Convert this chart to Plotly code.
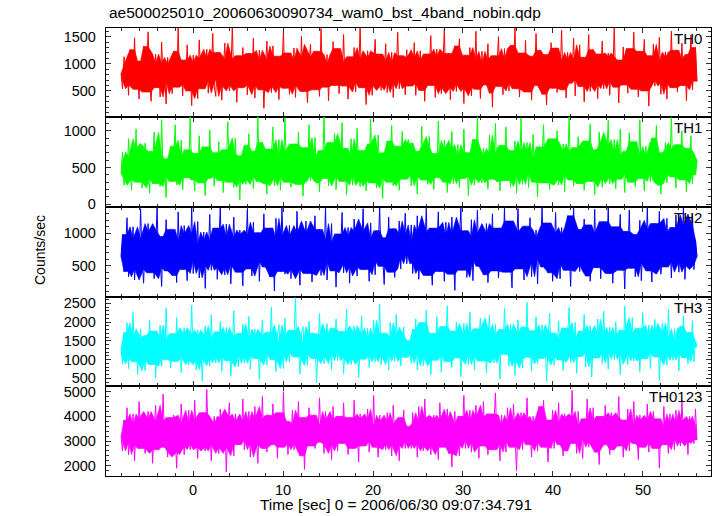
import plotly.graph_objects as go

# ---------------- data (read/estimated from the reference) ----------------
t_start = -8.0
t_end = 56.0

th0 = [820, 540, 1130, 690, 980, 420, 1260, 760, 610, 1480, 530, 900, 350, 1050, 720, 1320,
       480, 860, 1590, 640, 310, 940, 770, 1180, 560, 1010, 390, 1400, 700, 850, 260, 1120,
       680, 990, 450, 1230, 810, 570, 1690, 620, 930, 410, 1070, 740, 1350, 500, 880, 230,
       1160, 650, 1020, 360, 1440, 790, 540, 1100, 690, 1270, 460, 960, 830, 1560, 580, 400,
       1210, 720, 1000, 330, 870, 1380, 610, 1090, 500, 750, 1700, 640, 920, 290, 1150, 800,
       560, 1300, 710, 1040, 430, 1190, 860, 620, 1470, 370, 980, 730, 1250, 520, 1060, 180,
       900, 1420, 660, 1080, 470, 1330, 780, 590, 1140, 340, 1010, 820, 1620, 550, 760, 1200,
       440, 950, 700, 1290, 380, 1050, 870, 610, 1510, 490, 1120, 730, 280, 970, 1360, 640,
       1070, 520, 1230, 810, 400, 1650, 680, 930, 570, 1170, 320, 1000, 760, 1410, 600, 880,
       1280, 450, 1040, 720, 1540, 590, 960, 350, 1130, 800, 670, 1300, 480, 1090, 740, 1690,
       560, 1020, 830, 250, 1240, 690, 1110, 420, 970, 1450, 610, 880, 1180, 510, 1060, 790,
       1370, 470, 940, 650, 1210, 380, 1030, 860, 1580, 540, 1150, 720, 990, 430, 1260, 700,
       590, 1110, 760, 1390, 420, 980, 640, 1240, 510, 1060, 310, 1180, 720, 900, 1520, 600,
       1020, 380, 1270, 680, 1130, 450, 950, 1640, 570, 860, 1190, 340, 1000, 740, 1330, 490,
       880, 1460, 630, 1050, 270, 1160, 790, 560, 1300, 410, 1080, 700, 1600, 530, 920, 360,
       1230, 610, 990, 820, 1370, 460, 1070, 200, 1150, 690, 940, 1500, 580, 1010, 430, 1280,
       750, 1090, 500, 1340, 650, 910, 1680, 540, 1040, 390, 1200, 770, 620, 1430, 480, 970,
       1140, 330, 1010, 720, 1560, 600, 890, 1250, 440, 1100, 810, 240, 1170, 670, 1390, 550,
       960, 1290, 470, 1060, 780, 1620, 520, 930, 370, 1210, 640, 1080, 850, 1470, 410, 1000,
       710, 1350, 580, 1120, 300, 1030, 880, 1540, 490, 970, 1260, 620, 1090, 360, 1180, 760,
       1420, 540, 990, 680, 1200, 420, 1130, 800, 1660, 570, 950, 280, 1070, 730, 1310, 610,
       1040, 460, 1280, 750, 920, 1580, 530, 1100, 390, 1230, 670, 1010, 1450, 500, 870, 220,
       1150, 700, 1360, 590, 1060, 830, 1490, 440, 980, 650, 1220, 350, 1120, 790, 1600, 560,
       930, 1250, 480, 1080, 710, 1380, 600, 1020, 320, 1170, 860, 1530, 520, 960, 1300, 680]

th1 = [420, 710, 260, 580, 340, 890, 470, 190, 650, 380, 1020, 300, 540, 760, 220, 480,
       830, 350, 600, 150, 720, 450, 980, 280, 530, 670, 240, 1150, 410, 560, 90, 620,
       370, 790, 310, 510, 1080, 260, 640, 430, 870, 200, 590, 360, 740, 470, 1200, 330,
       550, 180, 690, 400, 930, 290, 610, 480, 120, 780, 350, 1010, 440, 570, 250, 700,
       390, 850, 320, 620, 160, 740, 460, 1120, 300, 530, 680, 230, 900, 410, 590, 60,
       660, 340, 800, 270, 520, 960, 380, 610, 210, 720, 450, 1190, 310, 570, 840, 280,
       490, 140, 750, 360, 630, 1050, 250, 550, 420, 880, 190, 640, 370, 1170, 470, 300,
       710, 230, 590, 820, 340, 500, 980, 270, 660, 110, 540, 770, 400, 1080, 320, 600,
       440, 910, 290, 560, 170, 730, 480, 1200, 350, 620, 250, 840, 410, 530, 960, 200,
       680, 380, 520, 1110, 310, 760, 130, 580, 450, 890, 260, 650, 390, 1030, 500, 240,
       730, 330, 600, 180, 820, 470, 1160, 290, 550, 690, 220, 940, 360, 620, 80, 700,
       410, 860, 300, 570, 1070, 250, 640, 430, 790, 190, 520, 990, 340, 610, 460, 880,
       560, 250, 830, 390, 650, 140, 720, 480, 1060, 330, 600, 780, 270, 920, 440, 570,
       200, 690, 360, 1130, 420, 610, 300, 870, 510, 160, 750, 400, 990, 280, 640, 470,
       810, 230, 580, 350, 1020, 450, 700, 120, 620, 390, 880, 260, 540, 1190, 370, 660,
       290, 760, 430, 580, 210, 940, 340, 690, 500, 1100, 310, 620, 180, 800, 460, 570,
       1050, 320, 650, 240, 730, 410, 860, 150, 590, 380, 1170, 270, 700, 520, 840, 230,
       610, 430, 950, 300, 560, 100, 780, 370, 640, 1080, 290, 530, 720, 200, 890, 450,
       350, 670, 1000, 260, 580, 420, 820, 170, 710, 480, 1200, 330, 600, 250, 770, 400,
       920, 280, 540, 690, 190, 860, 440, 620, 1090, 310, 570, 130, 740, 390, 980, 500,
       230, 800, 370, 630, 1140, 280, 590, 470, 880, 210, 680, 340, 1020, 420, 560, 160,
       720, 450, 970, 300, 610, 850, 240, 660, 390, 1150, 350, 580, 180, 790, 470, 640,
       310, 900, 430, 560, 1070, 260, 700, 140, 620, 410, 840, 290, 750, 520, 1180, 370,
       580, 220, 810, 460, 640, 1000, 330, 550, 170, 760, 440, 930, 280, 690, 400, 600]

th2 = [640, 980, 410, 760, 1240, 330, 870, 560, 1100, 280, 700, 920, 450, 1380, 600, 230,
       820, 510, 1150, 390, 690, 1020, 300, 780, 1400, 470, 640, 180, 950, 570, 1210, 420,
       730, 1060, 350, 610, 880, 240, 1330, 530, 790, 440, 1120, 660, 270, 990, 580, 1390,
       380, 840, 620, 1180, 310, 720, 500, 1020, 150, 900, 650, 1290, 430, 760, 560, 1080,
       290, 810, 1400, 470, 700, 360, 1140, 590, 940, 220, 760, 1250, 520, 870, 400, 1050,
       620, 190, 980, 730, 1360, 450, 820, 340, 1170, 560, 700, 1010, 260, 890, 600, 1300,
       480, 770, 1080, 330, 650, 920, 110, 1230, 540, 800, 410, 1400, 680, 370, 960, 590,
       1120, 300, 740, 870, 450, 1340, 610, 200, 1000, 520, 780, 1190, 380, 690, 930, 250,
       820, 1270, 470, 640, 1060, 350, 900, 560, 1400, 280, 750, 610, 1150, 420, 860, 170,
       990, 530, 720, 1320, 390, 810, 620, 1090, 230, 950, 480, 1220, 660, 340, 1030, 570,
       770, 1380, 440, 690, 910, 260, 1160, 580, 830, 360, 1040, 720, 1400, 490, 640, 210,
       930, 560, 1250, 400, 780, 1070, 320, 870, 630, 1190, 450, 980, 700, 1310, 530, 820,
       710, 1130, 380, 860, 540, 1270, 290, 780, 1020, 460, 670, 1400, 350, 900, 610, 200,
       1080, 520, 760, 1330, 410, 690, 950, 260, 1170, 580, 830, 370, 1250, 640, 120, 980,
       550, 880, 1400, 430, 720, 1040, 320, 810, 600, 1210, 270, 940, 680, 1360, 490, 760,
       1000, 360, 650, 1150, 240, 870, 570, 1300, 420, 790, 1080, 310, 700, 960, 530, 1400,
       400, 740, 1190, 590, 160, 1020, 680, 830, 1380, 450, 620, 920, 280, 1110, 560, 770,
       1240, 330, 860, 610, 1050, 220, 930, 720, 1400, 480, 640, 1160, 390, 800, 1010, 260,
       690, 1320, 540, 780, 300, 1090, 620, 970, 430, 1270, 710, 180, 880, 1400, 510, 740,
       1060, 410, 830, 600, 1220, 340, 750, 1130, 260, 910, 570, 1370, 470, 690, 1000, 300,
       820, 1180, 500, 660, 1400, 380, 940, 230, 780, 1100, 590, 850, 1290, 430, 720, 140,
       1030, 610, 1360, 460, 750, 980, 330, 870, 540, 1200, 270, 800, 1060, 650, 1400, 420,
       700, 250, 920, 1150, 520, 790, 1340, 370, 640, 1010, 480, 1230, 600, 860, 310, 1090,
       560, 1280, 740, 400, 970, 620, 1400, 290, 830, 1120, 510, 760, 1300, 440, 900, 640]

th3 = [1300, 880, 1720, 1050, 1980, 760, 1430, 1150, 2250, 940, 1580, 600, 1360, 1820, 1010, 1480,
       700, 1640, 1220, 2060, 870, 1390, 1760, 510, 1270, 1110, 1920, 820, 1530, 1000, 2380, 1190,
       1450, 780, 1690, 1320, 950, 2120, 1060, 1570, 650, 1400, 1850, 1130, 1680, 860, 1280, 2450,
       990, 1510, 720, 1790, 1210, 1620, 430, 1350, 1900, 1040, 1470, 830, 2200, 1160, 1560, 910,
       1740, 1080, 2010, 690, 1420, 1250, 1860, 970, 1600, 560, 1330, 2300, 1120, 1500, 800, 1700,
       1240, 1950, 900, 1410, 1090, 2150, 740, 1550, 1300, 1810, 1020, 1640, 470, 1380, 2060, 1180,
       1520, 850, 1730, 1270, 2400, 1000, 1460, 680, 1610, 1930, 1140, 1370, 760, 2100, 1230, 1590,
       930, 1780, 1200, 1490, 2650, 1070, 1330, 610, 1670, 1880, 1150, 1440, 840, 2020, 1260, 1700,
       1030, 1560, 380, 1310, 2230, 1110, 1650, 890, 1420, 1960, 1170, 1520, 730, 1830, 1290, 2080,
       970, 1480, 1220, 1750, 620, 1360, 2340, 1050, 1600, 870, 1450, 1900, 1140, 1690, 520, 1280,
       2170, 1010, 1540, 1310, 1840, 790, 1390, 1100, 2050, 940, 1620, 1230, 2480, 860, 1470, 1700,
       1130, 1580, 720, 1990, 1250, 1430, 950, 2210, 1180, 1660, 830, 1370, 1870, 1060, 1510, 1290,
       1410, 900, 1800, 1160, 2090, 720, 1540, 1260, 1990, 830, 1370, 2320, 1080, 1630, 590, 1450,
       1700, 980, 2150, 1220, 1510, 660, 1880, 1120, 1590, 2430, 940, 1350, 790, 1760, 1180, 2000,
       1040, 1600, 550, 1430, 1970, 1150, 1670, 870, 2260, 1300, 1480, 730, 1820, 1090, 1560, 2110,
       960, 1390, 1720, 640, 1530, 2190, 1070, 1640, 910, 1940, 1230, 1410, 480, 1800, 1140, 2360,
       1260, 1580, 820, 1950, 1100, 1680, 580, 1440, 2060, 1010, 1520, 770, 1870, 1200, 2520, 1060,
       1490, 690, 1770, 1290, 2140, 880, 1400, 1030, 1930, 1160, 1620, 420, 1360, 2240, 1090, 1710,
       850, 1560, 1330, 2030, 990, 1470, 710, 1840, 1210, 1650, 2390, 920, 1380, 1120, 1990, 630,
       1500, 1080, 1760, 1310, 2200, 800, 1590, 1170, 1910, 540, 1440, 1690, 1040, 2080, 1270, 1630,
       900, 2290, 1190, 1530, 740, 1860, 1330, 1610, 1000, 2010, 1240, 1460, 600, 1780, 1150, 2420,
       1300, 870, 1700, 1420, 2120, 960, 1580, 1110, 1830, 680, 1490, 2250, 1020, 1640, 1280, 1920,
       760, 1550, 1180, 2070, 1070, 1730, 450, 1400, 1970, 1130, 1600, 850, 2330, 1250, 1500, 980,
       1820, 1160, 1460, 700, 1890, 1230, 2160, 1050, 1570, 890, 1720, 1320, 2040, 940, 1480, 1340]

th0123 = [3200, 2600, 3850, 2950, 4350, 2450, 3500, 3050, 4100, 2200, 3650, 2850, 4600, 3300, 2700, 3900,
          2500, 3450, 4200, 2900, 3700, 2100, 3350, 4450, 3000, 2650, 3800, 3150, 4900, 2750, 3550, 2350,
          3950, 3100, 2550, 4050, 3250, 1900, 3600, 2800, 4500, 3400, 2450, 3750, 3050, 4250, 2650, 3500,
          2900, 4650, 3200, 2300, 3850, 2750, 4150, 3350, 2600, 5100, 3000, 3700, 2200, 3450, 4000, 2850,
          3600, 2500, 4300, 3150, 2750, 3950, 1750, 3400, 4550, 2950, 3650, 2400, 4100, 3250, 2850, 3800,
          3050, 4700, 2650, 3550, 3200, 4200, 2350, 3750, 2900, 4400, 3300, 2100, 3900, 3100, 4800, 2700,
          3450, 2550, 4050, 3200, 2850, 4500, 3000, 3650, 2300, 4150, 3350, 2750, 5000, 3100, 3800, 2450,
          3550, 2900, 4250, 2650, 3700, 3150, 4600, 2400, 3400, 3950, 1850, 3600, 3050, 4350, 2800, 3300,
          4050, 2700, 3500, 3200, 4750, 2950, 3650, 2500, 4200, 3400, 2850, 3850, 2250, 4400, 3100, 3700,
          2600, 4000, 3300, 2900, 4550, 3150, 3750, 2450, 3950, 3250, 2700, 4650, 3050, 3500, 2150, 4100,
          3350, 2800, 3900, 3100, 4300, 2550, 3600, 3000, 4850, 2750, 3450, 2350, 4050, 3200, 2900, 3800,
          2650, 4150, 3050, 3550, 2400, 4450, 3250, 2850, 3700, 2200, 3950, 3150, 4250, 2700, 3600, 3000,
          3300, 2700, 4150, 2900, 3750, 2350, 4400, 3050, 3550, 2600, 4700, 3200, 2800, 3900, 2450, 3650,
          4050, 2950, 3400, 2250, 4550, 3150, 2750, 3850, 3000, 4300, 2500, 3600, 1950, 3450, 4200, 2850,
          3700, 2400, 4000, 3250, 4850, 2700, 3500, 3050, 4250, 2550, 3800, 2950, 4450, 3200, 2300, 3950,
          2800, 4600, 3100, 3550, 2450, 4100, 3350, 2650, 3750, 4950, 2900, 3500, 2200, 4050, 3150, 3650,
          2550, 4350, 3000, 3800, 2750, 4500, 3250, 1800, 3600, 3050, 4150, 2650, 3900, 3300, 4750, 2850,
          3450, 2350, 4000, 3150, 3700, 2600, 4400, 2950, 3550, 4650, 2750, 3350, 2150, 3850, 3100, 4250,
          2700, 3750, 3200, 4550, 2850, 3500, 2400, 4100, 3300, 2600, 3950, 3050, 5050, 2900, 3600, 2500,
          4200, 3100, 3450, 2300, 3900, 3250, 4700, 2750, 3650, 3000, 4350, 2550, 3800, 3150, 2050, 4000,
          3350, 2850, 4450, 3050, 3700, 2450, 4150, 3200, 2650, 3950, 3400, 4800, 2800, 3550, 2350, 3850,
          3000, 4300, 2600, 3650, 3150, 4600, 2900, 3450, 2250, 4050, 3300, 2750, 3850, 3100, 4500, 2550,
          3750, 2950, 4200, 3350, 2700, 3900, 1900, 3600, 3050, 4400, 2850, 3500, 2500, 4100, 3200, 3700,
          2650, 4250, 3100, 3550, 2800, 4650, 3250, 3000, 3800, 2450, 4000, 3150, 3650, 2900, 4300, 3050]

series_names = ["TH0", "TH1", "TH2", "TH3", "TH0123"]
series_values = [th0, th1, th2, th3, th0123]
series_colors = ["#ff0000", "#00ff00", "#0000ff", "#00ffff", "#ff00ff"]
y_ranges = [[20, 1660], [-37, 1186], [17, 1406], [295, 2668], [1583, 5231]]
y_dticks = [500, 500, 500, 500, 1000]
y_minor = [100, 100, 100, 100, 200]
x_range = [-9.67, 57.56]

title_text = "ae500025010_20060630090734_wam0_bst_4band_nobin.qdp"
x_title = "Time [sec] 0 = 2006/06/30 09:07:34.791"
y_title = "Counts/sec"

# ---------------- layout geometry (pixel positions in the 717x516 page) ----------------
W, H = 717, 516
left_px, right_px = 106, 711
panel_edges_px = [28, 117, 207, 297, 386, 476]
FONT = "Liberation Sans, Arial, Helvetica, sans-serif"


def _running_median(seq, upper):
    out = []
    m = len(seq)
    for k in range(m):
        if 0 < k < m - 1:
            out.append(sorted(seq[k - 1:k + 2])[1])
        else:
            nb = seq[1] if k == 0 else seq[m - 2]
            out.append(min(seq[k], nb) if upper else max(seq[k], nb))
    return out


def core_band(t, v):
    """Solid core of a densely sampled light curve: a polygon whose top edge
    follows the running median of the series' local maxima and whose bottom
    edge follows the running median of its local minima."""
    n = len(v)
    up_x, up_y, lo_x, lo_y = [], [], [], []
    for j in range(n):
        a = v[j - 1] if j > 0 else v[j]
        b = v[j + 1] if j < n - 1 else v[j]
        if v[j] >= a and v[j] >= b:
            up_x.append(t[j]); up_y.append(v[j])
        if v[j] <= a and v[j] <= b:
            lo_x.append(t[j]); lo_y.append(v[j])
    cu = _running_median(up_y, True)
    cl = _running_median(lo_y, False)
    return up_x + lo_x[::-1], cu + cl[::-1]


fig = go.Figure()

layout = dict(
    width=W, height=H,
    margin=dict(l=0, r=0, t=0, b=0, pad=0, autoexpand=False),
    paper_bgcolor="white", plot_bgcolor="white",
    showlegend=False,
    font=dict(family=FONT, size=14, color="black"),
)

annotations = []
for i, (name, vals, col) in enumerate(zip(series_names, series_values, series_colors)):
    k = "" if i == 0 else str(i + 1)
    n = len(vals)
    t = [t_start + j * (t_end - t_start) / (n - 1) for j in range(n)]
    bx, by = core_band(t, vals)
    fig.add_trace(go.Scatter(
        x=bx, y=by, mode="lines", fill="toself", fillcolor=col,
        line=dict(color=col, width=0.6, simplify=False),
        xaxis="x" + k, yaxis="y" + k, name=name, hoverinfo="skip",
    ))
    fig.add_trace(go.Scatter(
        x=t, y=vals, mode="lines",
        line=dict(color=col, width=1, simplify=False),
        xaxis="x" + k, yaxis="y" + k, name=name,
    ))
    top, bot = panel_edges_px[i], panel_edges_px[i + 1]
    ydom = [1 - bot / H, 1 - top / H]
    xdom = [left_px / W, right_px / W]
    layout["xaxis" + k] = dict(
        domain=xdom, range=x_range, anchor="y" + k,
        showline=True, linecolor="black", linewidth=1.3, mirror="allticks",
        ticks="inside", ticklen=5, tickcolor="#333", tickwidth=1,
        dtick=10, tick0=0,
        minor=dict(ticks="inside", dtick=2, ticklen=3, tickcolor="#333"),
        showgrid=False, zeroline=False,
        showticklabels=(i == 4),
        tickfont=dict(family=FONT, size=14.5, color="black"),
    )
    layout["yaxis" + k] = dict(
        domain=ydom, range=y_ranges[i], anchor="x" + k,
        showline=True, linecolor="black", linewidth=1.3, mirror="allticks",
        ticks="inside", ticklen=5, tickcolor="#333", tickwidth=1,
        dtick=y_dticks[i], tick0=0,
        minor=dict(ticks="inside", dtick=y_minor[i], ticklen=3, tickcolor="#333"),
        showgrid=False, zeroline=False,
        ticklabelstandoff=6,
        tickfont=dict(family=FONT, size=14.5, color="black"),
    )
    annotations.append(dict(
        text=name, xref="paper", yref="paper",
        x=704 / W, y=1 - (top + 10.5) / H,
        xanchor="right", yanchor="middle", showarrow=False,
        font=dict(family=FONT, size=15, color="black"),
    ))

annotations.append(dict(
    text=title_text, xref="paper", yref="paper",
    x=107 / W, y=1 - 12 / H, xanchor="left", yanchor="middle", showarrow=False,
    font=dict(family=FONT, size=15.5, color="black"),
))
annotations.append(dict(
    text=x_title, xref="paper", yref="paper",
    x=396 / W, y=1 - 504 / H, xanchor="center", yanchor="middle", showarrow=False,
    font=dict(family=FONT, size=15.4, color="black"),
))
annotations.append(dict(
    text=y_title, xref="paper", yref="paper",
    x=40 / W, y=1 - 250 / H, xanchor="center", yanchor="middle", showarrow=False,
    textangle=-90,
    font=dict(family=FONT, size=14, color="black"),
))
layout["annotations"] = annotations

fig.update_layout(**layout)
# remove the browser's default 8px body margin so the figure sits at the page origin
fig.write_html("out.html", config={"displayModeBar": False},
               post_script="document.body.style.margin='0px';")
